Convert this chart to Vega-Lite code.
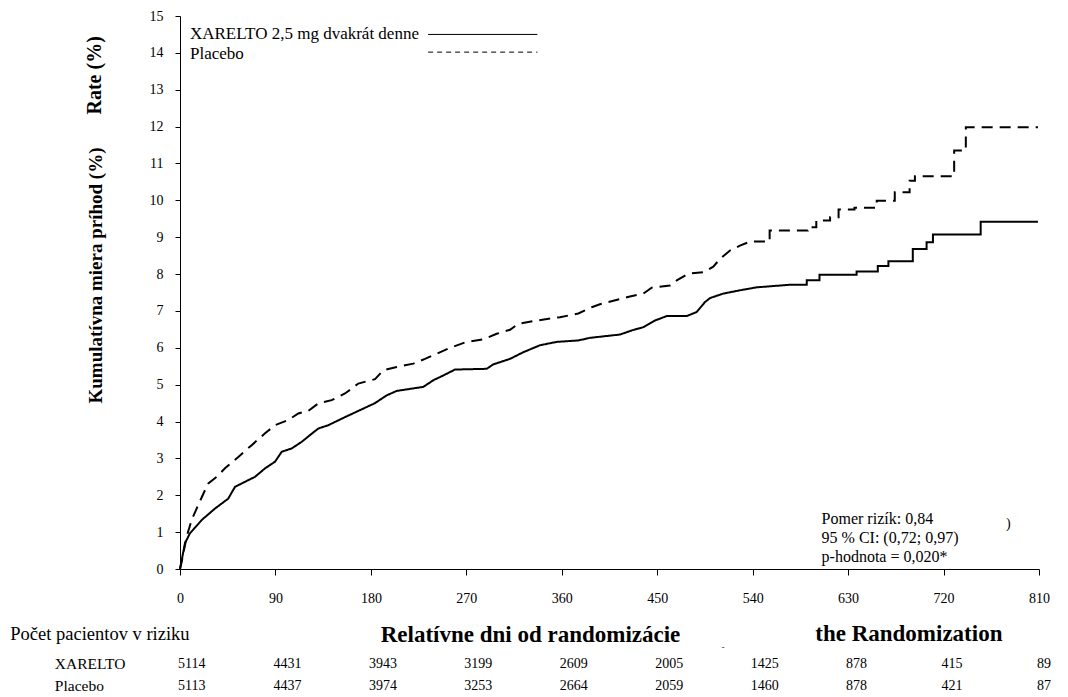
{
  "$schema": "https://vega.github.io/schema/vega-lite/v6.json",
  "width": 859,
  "height": 553,
  "autosize": {"type": "none"},
  "padding": {"left": 180, "top": 16, "right": 29, "bottom": 128},
  "background": "white",
  "config": {
    "view": {"stroke": null},
    "font": "Liberation Serif",
    "text": {"font": "Liberation Serif", "color": "black"},
    "axis": {"labelOverlap": false, "labelSeparation": 0},
    "axisY": {"labelOverlap": false, "tickCount": 16}
  },
  "datasets": {
    "km": [
      {"i": 1, "series": "XARELTO", "day": 0, "rate": 0},
      {"i": 2, "series": "XARELTO", "day": 1.6, "rate": 0.24},
      {"i": 3, "series": "XARELTO", "day": 4.7, "rate": 0.7},
      {"i": 4, "series": "XARELTO", "day": 9.4, "rate": 0.97},
      {"i": 5, "series": "XARELTO", "day": 20.5, "rate": 1.33},
      {"i": 6, "series": "XARELTO", "day": 33, "rate": 1.64},
      {"i": 7, "series": "XARELTO", "day": 45.5, "rate": 1.91},
      {"i": 8, "series": "XARELTO", "day": 51.9, "rate": 2.23},
      {"i": 9, "series": "XARELTO", "day": 70.7, "rate": 2.5},
      {"i": 10, "series": "XARELTO", "day": 80.2, "rate": 2.73},
      {"i": 11, "series": "XARELTO", "day": 89.6, "rate": 2.91},
      {"i": 12, "series": "XARELTO", "day": 95.9, "rate": 3.18},
      {"i": 13, "series": "XARELTO", "day": 105.3, "rate": 3.27},
      {"i": 14, "series": "XARELTO", "day": 114.8, "rate": 3.45},
      {"i": 15, "series": "XARELTO", "day": 124.2, "rate": 3.67},
      {"i": 16, "series": "XARELTO", "day": 130.4, "rate": 3.81},
      {"i": 17, "series": "XARELTO", "day": 139.8, "rate": 3.9},
      {"i": 18, "series": "XARELTO", "day": 155.6, "rate": 4.12},
      {"i": 19, "series": "XARELTO", "day": 171.3, "rate": 4.33},
      {"i": 20, "series": "XARELTO", "day": 183.9, "rate": 4.5},
      {"i": 21, "series": "XARELTO", "day": 194.9, "rate": 4.71},
      {"i": 22, "series": "XARELTO", "day": 204.3, "rate": 4.83},
      {"i": 23, "series": "XARELTO", "day": 229.4, "rate": 4.94},
      {"i": 24, "series": "XARELTO", "day": 238.9, "rate": 5.12},
      {"i": 25, "series": "XARELTO", "day": 248.3, "rate": 5.25},
      {"i": 26, "series": "XARELTO", "day": 259.3, "rate": 5.41},
      {"i": 27, "series": "XARELTO", "day": 289.2, "rate": 5.43},
      {"i": 28, "series": "XARELTO", "day": 295.4, "rate": 5.55},
      {"i": 29, "series": "XARELTO", "day": 311.2, "rate": 5.7},
      {"i": 30, "series": "XARELTO", "day": 323.7, "rate": 5.88},
      {"i": 31, "series": "XARELTO", "day": 339.5, "rate": 6.07},
      {"i": 32, "series": "XARELTO", "day": 355.2, "rate": 6.16},
      {"i": 33, "series": "XARELTO", "day": 375.6, "rate": 6.2},
      {"i": 34, "series": "XARELTO", "day": 386.6, "rate": 6.27},
      {"i": 35, "series": "XARELTO", "day": 414.9, "rate": 6.36},
      {"i": 36, "series": "XARELTO", "day": 425.9, "rate": 6.47},
      {"i": 37, "series": "XARELTO", "day": 436.9, "rate": 6.56},
      {"i": 38, "series": "XARELTO", "day": 447.9, "rate": 6.74},
      {"i": 39, "series": "XARELTO", "day": 458.9, "rate": 6.86},
      {"i": 40, "series": "XARELTO", "day": 477.8, "rate": 6.86},
      {"i": 41, "series": "XARELTO", "day": 487.2, "rate": 6.97},
      {"i": 42, "series": "XARELTO", "day": 495, "rate": 7.24},
      {"i": 43, "series": "XARELTO", "day": 499.8, "rate": 7.35},
      {"i": 44, "series": "XARELTO", "day": 512.3, "rate": 7.47},
      {"i": 45, "series": "XARELTO", "day": 528, "rate": 7.56},
      {"i": 46, "series": "XARELTO", "day": 543.8, "rate": 7.64},
      {"i": 47, "series": "XARELTO", "day": 575.2, "rate": 7.71},
      {"i": 48, "series": "XARELTO", "day": 591, "rate": 7.71},
      {"i": 49, "series": "XARELTO", "day": 591, "rate": 7.83},
      {"i": 50, "series": "XARELTO", "day": 603, "rate": 7.83},
      {"i": 51, "series": "XARELTO", "day": 603, "rate": 7.98},
      {"i": 52, "series": "XARELTO", "day": 638, "rate": 7.98},
      {"i": 53, "series": "XARELTO", "day": 638, "rate": 8.07},
      {"i": 54, "series": "XARELTO", "day": 658, "rate": 8.07},
      {"i": 55, "series": "XARELTO", "day": 658, "rate": 8.22},
      {"i": 56, "series": "XARELTO", "day": 668, "rate": 8.22},
      {"i": 57, "series": "XARELTO", "day": 668, "rate": 8.35},
      {"i": 58, "series": "XARELTO", "day": 691, "rate": 8.35},
      {"i": 59, "series": "XARELTO", "day": 691, "rate": 8.68},
      {"i": 60, "series": "XARELTO", "day": 704, "rate": 8.68},
      {"i": 61, "series": "XARELTO", "day": 704, "rate": 8.86},
      {"i": 62, "series": "XARELTO", "day": 710, "rate": 8.86},
      {"i": 63, "series": "XARELTO", "day": 710, "rate": 9.07},
      {"i": 64, "series": "XARELTO", "day": 755, "rate": 9.07},
      {"i": 65, "series": "XARELTO", "day": 755, "rate": 9.42},
      {"i": 66, "series": "XARELTO", "day": 809, "rate": 9.42},
      {"i": 1, "series": "Placebo", "day": 0, "rate": 0},
      {"i": 2, "series": "Placebo", "day": 1.6, "rate": 0.2},
      {"i": 3, "series": "Placebo", "day": 6.3, "rate": 0.88},
      {"i": 4, "series": "Placebo", "day": 11, "rate": 1.33},
      {"i": 5, "series": "Placebo", "day": 15.7, "rate": 1.64},
      {"i": 6, "series": "Placebo", "day": 23.6, "rate": 2.14},
      {"i": 7, "series": "Placebo", "day": 26.7, "rate": 2.32},
      {"i": 8, "series": "Placebo", "day": 34.6, "rate": 2.5},
      {"i": 9, "series": "Placebo", "day": 42.4, "rate": 2.73},
      {"i": 10, "series": "Placebo", "day": 55, "rate": 3.04},
      {"i": 11, "series": "Placebo", "day": 67.6, "rate": 3.36},
      {"i": 12, "series": "Placebo", "day": 80.2, "rate": 3.68},
      {"i": 13, "series": "Placebo", "day": 89.6, "rate": 3.9},
      {"i": 14, "series": "Placebo", "day": 102.1, "rate": 4.04},
      {"i": 15, "series": "Placebo", "day": 111.6, "rate": 4.22},
      {"i": 16, "series": "Placebo", "day": 121, "rate": 4.29},
      {"i": 17, "series": "Placebo", "day": 130.4, "rate": 4.49},
      {"i": 18, "series": "Placebo", "day": 143, "rate": 4.58},
      {"i": 19, "series": "Placebo", "day": 155.6, "rate": 4.76},
      {"i": 20, "series": "Placebo", "day": 168.1, "rate": 5.03},
      {"i": 21, "series": "Placebo", "day": 183.9, "rate": 5.15},
      {"i": 22, "series": "Placebo", "day": 191.7, "rate": 5.39},
      {"i": 23, "series": "Placebo", "day": 204.3, "rate": 5.48},
      {"i": 24, "series": "Placebo", "day": 220, "rate": 5.57},
      {"i": 25, "series": "Placebo", "day": 231, "rate": 5.7},
      {"i": 26, "series": "Placebo", "day": 242, "rate": 5.84},
      {"i": 27, "series": "Placebo", "day": 254.6, "rate": 6.0},
      {"i": 28, "series": "Placebo", "day": 270.3, "rate": 6.16},
      {"i": 29, "series": "Placebo", "day": 286, "rate": 6.23},
      {"i": 30, "series": "Placebo", "day": 298.6, "rate": 6.38},
      {"i": 31, "series": "Placebo", "day": 311.2, "rate": 6.49},
      {"i": 32, "series": "Placebo", "day": 319, "rate": 6.65},
      {"i": 33, "series": "Placebo", "day": 336.4, "rate": 6.74},
      {"i": 34, "series": "Placebo", "day": 358.3, "rate": 6.83},
      {"i": 35, "series": "Placebo", "day": 375.6, "rate": 6.93},
      {"i": 36, "series": "Placebo", "day": 388.2, "rate": 7.1},
      {"i": 37, "series": "Placebo", "day": 396, "rate": 7.18},
      {"i": 38, "series": "Placebo", "day": 424.3, "rate": 7.39},
      {"i": 39, "series": "Placebo", "day": 436.9, "rate": 7.47},
      {"i": 40, "series": "Placebo", "day": 444.8, "rate": 7.63},
      {"i": 41, "series": "Placebo", "day": 462, "rate": 7.69},
      {"i": 42, "series": "Placebo", "day": 468.4, "rate": 7.83},
      {"i": 43, "series": "Placebo", "day": 479.3, "rate": 8.01},
      {"i": 44, "series": "Placebo", "day": 493.4, "rate": 8.05},
      {"i": 45, "series": "Placebo", "day": 502.9, "rate": 8.2},
      {"i": 46, "series": "Placebo", "day": 509.2, "rate": 8.41},
      {"i": 47, "series": "Placebo", "day": 518.6, "rate": 8.64},
      {"i": 48, "series": "Placebo", "day": 528, "rate": 8.77},
      {"i": 49, "series": "Placebo", "day": 537.5, "rate": 8.88},
      {"i": 50, "series": "Placebo", "day": 556, "rate": 8.88},
      {"i": 51, "series": "Placebo", "day": 556, "rate": 9.18},
      {"i": 52, "series": "Placebo", "day": 592, "rate": 9.18},
      {"i": 53, "series": "Placebo", "day": 592, "rate": 9.27},
      {"i": 54, "series": "Placebo", "day": 600, "rate": 9.27},
      {"i": 55, "series": "Placebo", "day": 600, "rate": 9.45},
      {"i": 56, "series": "Placebo", "day": 613, "rate": 9.45},
      {"i": 57, "series": "Placebo", "day": 613, "rate": 9.54},
      {"i": 58, "series": "Placebo", "day": 621, "rate": 9.54},
      {"i": 59, "series": "Placebo", "day": 621, "rate": 9.75},
      {"i": 60, "series": "Placebo", "day": 636, "rate": 9.75},
      {"i": 61, "series": "Placebo", "day": 636, "rate": 9.8},
      {"i": 62, "series": "Placebo", "day": 657, "rate": 9.8},
      {"i": 63, "series": "Placebo", "day": 657, "rate": 9.99},
      {"i": 64, "series": "Placebo", "day": 674, "rate": 9.99},
      {"i": 65, "series": "Placebo", "day": 674, "rate": 10.22},
      {"i": 66, "series": "Placebo", "day": 688, "rate": 10.22},
      {"i": 67, "series": "Placebo", "day": 688, "rate": 10.53},
      {"i": 68, "series": "Placebo", "day": 693, "rate": 10.53},
      {"i": 69, "series": "Placebo", "day": 693, "rate": 10.65},
      {"i": 70, "series": "Placebo", "day": 730, "rate": 10.65},
      {"i": 71, "series": "Placebo", "day": 730, "rate": 11.35},
      {"i": 72, "series": "Placebo", "day": 741, "rate": 11.35},
      {"i": 73, "series": "Placebo", "day": 741, "rate": 11.98},
      {"i": 74, "series": "Placebo", "day": 809, "rate": 11.98}
    ],
    "risk": [
      {"group": "XARELTO", "day": 0, "n": "5114"},
      {"group": "XARELTO", "day": 90, "n": "4431"},
      {"group": "XARELTO", "day": 180, "n": "3943"},
      {"group": "XARELTO", "day": 270, "n": "3199"},
      {"group": "XARELTO", "day": 360, "n": "2609"},
      {"group": "XARELTO", "day": 450, "n": "2005"},
      {"group": "XARELTO", "day": 540, "n": "1425"},
      {"group": "XARELTO", "day": 630, "n": "878"},
      {"group": "XARELTO", "day": 720, "n": "415"},
      {"group": "XARELTO", "day": 810, "n": "89"},
      {"group": "Placebo", "day": 0, "n": "5113"},
      {"group": "Placebo", "day": 90, "n": "4437"},
      {"group": "Placebo", "day": 180, "n": "3974"},
      {"group": "Placebo", "day": 270, "n": "3253"},
      {"group": "Placebo", "day": 360, "n": "2664"},
      {"group": "Placebo", "day": 450, "n": "2059"},
      {"group": "Placebo", "day": 540, "n": "1460"},
      {"group": "Placebo", "day": 630, "n": "878"},
      {"group": "Placebo", "day": 720, "n": "421"},
      {"group": "Placebo", "day": 810, "n": "87"}
    ]
  },
  "layer": [
    {
      "data": {"name": "km"},
      "mark": {"type": "line", "color": "black", "strokeWidth": 2, "interpolate": "linear"},
      "encoding": {
        "x": {
          "field": "day", "type": "quantitative",
          "scale": {"domain": [0, 810], "nice": false, "zero": false},
          "axis": {
            "values": [0, 90, 180, 270, 360, 450, 540, 630, 720, 810],
            "grid": false, "domainColor": "black", "domainWidth": 1,
            "tickColor": "black", "tickSize": 6, "tickWidth": 1,
            "labelFont": "Liberation Serif", "labelFontSize": 14, "labelColor": "black",
            "labelPadding": 16, "labelFlush": false, "labelOverlap": false,
            "title": "Relatívne dni od randomizácie",
            "titleFont": "Liberation Serif", "titleFontSize": 23, "titleFontWeight": "bold",
            "titleColor": "black", "titleX": 350, "titleY": 65,
            "titleAlign": "center", "titleBaseline": "middle"
          }
        },
        "y": {
          "field": "rate", "type": "quantitative",
          "scale": {"domain": [0, 15], "nice": false},
          "axis": {
            "values": [0, 1, 2, 3, 4, 5, 6, 7, 8, 9, 10, 11, 12, 13, 14, 15],
            "tickCount": 16,
            "grid": false, "domainColor": "black", "domainWidth": 1,
            "tickColor": "black", "tickSize": 5, "tickWidth": 1,
            "labelFont": "Liberation Serif", "labelFontSize": 14, "labelColor": "black",
            "labelPadding": 12, "labelFlush": false, "labelOverlap": false,
            "title": "Kumulatívna miera príhod (%)",
            "titleFont": "Liberation Serif", "titleFontSize": 19, "titleFontWeight": "bold",
            "titleColor": "black", "titleX": -85, "titleY": 259, "titleAngle": 270,
            "titleAlign": "center", "titleBaseline": "middle"
          }
        },
        "detail": {"field": "series"},
        "strokeDash": {
          "field": "series", "type": "nominal",
          "scale": {"domain": ["XARELTO", "Placebo"], "range": [[1, 0], [11, 7]]},
          "legend": null
        },
        "order": {"field": "i", "type": "quantitative"}
      }
    },
    {
      "data": {"name": "risk"},
      "transform": [{"filter": "datum.group === 'XARELTO'"}],
      "mark": {"type": "text", "align": "left", "baseline": "middle", "fontSize": 14, "dx": -2},
      "encoding": {
        "x": {"field": "day", "type": "quantitative"},
        "y": {"datum": -2.575},
        "text": {"field": "n"}
      }
    },
    {
      "data": {"name": "risk"},
      "transform": [{"filter": "datum.group === 'Placebo'"}],
      "mark": {"type": "text", "align": "left", "baseline": "middle", "fontSize": 14, "dx": -2},
      "encoding": {
        "x": {"field": "day", "type": "quantitative"},
        "y": {"datum": -3.17},
        "text": {"field": "n"}
      }
    },
    {
      "data": {"values": [{}]},
      "mark": {"type": "text", "align": "left", "baseline": "middle", "fontSize": 15.5},
      "encoding": {"x": {"datum": -118}, "y": {"datum": -2.575}, "text": {"value": "XARELTO"}}
    },
    {
      "data": {"values": [{}]},
      "mark": {"type": "text", "align": "left", "baseline": "middle", "fontSize": 15.5},
      "encoding": {"x": {"datum": -118}, "y": {"datum": -3.17}, "text": {"value": "Placebo"}}
    },
    {
      "data": {"values": [{}]},
      "mark": {"type": "text", "align": "left", "baseline": "middle", "fontSize": 18.5},
      "encoding": {"x": {"datum": -160}, "y": {"datum": -1.76}, "text": {"value": "Počet pacientov v riziku"}}
    },
    {
      "data": {"values": [{}]},
      "mark": {"type": "text", "align": "left", "baseline": "middle", "fontSize": 23, "fontWeight": "bold"},
      "encoding": {"x": {"datum": 599}, "y": {"datum": -1.76}, "text": {"value": "the Randomization"}}
    },
    {
      "data": {"values": [{}]},
      "mark": {"type": "text", "align": "center", "baseline": "middle", "fontSize": 8},
      "encoding": {"x": {"datum": 512}, "y": {"datum": -2.14}, "text": {"value": "-"}}
    },
    {
      "data": {"values": [{}]},
      "mark": {"type": "text", "align": "center", "baseline": "middle", "fontSize": 20, "fontWeight": "bold", "angle": 270},
      "encoding": {"x": {"datum": -80}, "y": {"datum": 13.39}, "text": {"value": "Rate (%)"}}
    },
    {
      "data": {"values": [{}]},
      "mark": {"type": "text", "align": "left", "baseline": "middle", "fontSize": 17},
      "encoding": {"x": {"datum": 9.4}, "y": {"datum": 14.5}, "text": {"value": "XARELTO 2,5 mg dvakrát denne"}}
    },
    {
      "data": {"values": [{}]},
      "mark": {"type": "text", "align": "left", "baseline": "middle", "fontSize": 17},
      "encoding": {"x": {"datum": 9.4}, "y": {"datum": 13.96}, "text": {"value": "Placebo"}}
    },
    {
      "data": {"values": [{}]},
      "mark": {"type": "rule", "color": "black", "strokeWidth": 1},
      "encoding": {"x": {"datum": 234}, "x2": {"datum": 337}, "y": {"datum": 14.5}}
    },
    {
      "data": {"values": [{}]},
      "mark": {"type": "rule", "color": "black", "strokeWidth": 1, "strokeDash": [5, 4]},
      "encoding": {"x": {"datum": 234}, "x2": {"datum": 337}, "y": {"datum": 14.02}}
    },
    {
      "data": {"values": [{}]},
      "mark": {"type": "text", "align": "left", "baseline": "middle", "fontSize": 16, "lineHeight": 19},
      "encoding": {
        "x": {"datum": 605},
        "y": {"datum": 1.355},
        "text": {"value": ["Pomer rizík: 0,84", "95 % CI: (0,72; 0,97)", "p-hodnota = 0,020*"]}
      }
    },
    {
      "data": {"values": [{}]},
      "mark": {"type": "text", "align": "center", "baseline": "middle", "fontSize": 14},
      "encoding": {"x": {"datum": 781}, "y": {"datum": 1.22}, "text": {"value": ")"}}
    }
  ]
}
